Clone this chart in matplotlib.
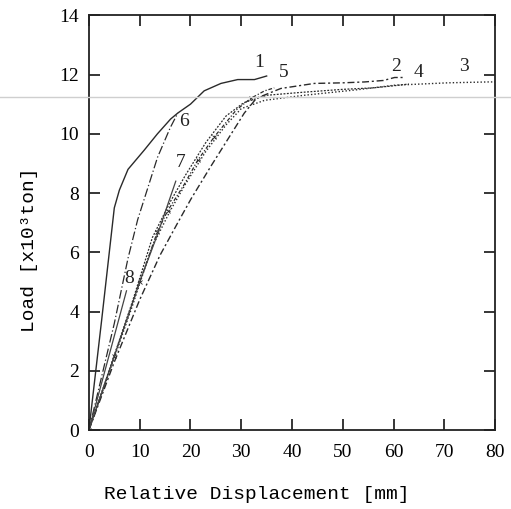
import matplotlib
matplotlib.use("Agg")
import matplotlib.pyplot as plt
from matplotlib.lines import Line2D

# =========================
# DATA
# =========================
# displacement [mm] / load [x10^3 ton]
c1_x = [0, 2.5, 5.0, 6.0, 7.7, 10.9, 13.5, 16.1, 17.5, 20.0, 22.7, 26.0, 29.3, 32.6, 35.0]
c1_y = [0, 3.7, 7.5, 8.1, 8.8, 9.45, 10.0, 10.5, 10.7, 11.0, 11.45, 11.7, 11.83, 11.83, 11.95]

c2_x = [0, 5, 10, 14, 17.5, 20.1, 24.0, 27.3, 30.6, 33.0, 37.8, 44.4, 50, 54.3, 58, 60.2, 62.2]
c2_y = [0, 2.3, 4.4, 5.9, 7.0, 7.8, 8.9, 9.8, 10.7, 11.2, 11.53, 11.7, 11.72, 11.75, 11.8, 11.9, 11.9]

c3_x = [0, 8.5, 10.5, 12.5, 16, 19, 23, 27, 30, 34.6, 42.4, 53, 60.2, 70.7, 78.6, 80]
c3_y = [0, 4.16, 5.2, 6.2, 7.4, 8.3, 9.4, 10.3, 10.85, 11.13, 11.3, 11.49, 11.64, 11.72, 11.75, 11.75]

c4_x = [0, 8.5, 10.5, 12.5, 16, 19, 23, 27, 30.5, 35, 42, 50, 56, 60, 63]
c4_y = [0, 4.3, 5.4, 6.5, 7.7, 8.6, 9.7, 10.6, 11.05, 11.3, 11.4, 11.5, 11.55, 11.62, 11.68]

c5_x = [0, 5, 10, 13.5, 15.5, 18.8, 21.4, 24.7, 29, 31.9, 34.6, 36.5]
c5_y = [0, 2.5, 5.0, 6.7, 7.4, 8.3, 9.1, 9.9, 10.8, 11.2, 11.45, 11.55]

c6_x = [0, 5, 7.7, 9.6, 13.5, 16, 17.5]
c6_y = [0, 3.6, 5.8, 7.1, 9.2, 10.2, 10.7]

c7_x = [0, 5, 10, 13.5, 17.1]
c7_y = [0, 2.5, 5.0, 6.6, 8.4]

c8_x = [0, 7.4]
c8_y = [0, 4.7]

curve_names = ["1", "2", "3", "4", "5", "6", "7", "8"]

# =========================
# PLOT
# =========================
fig = plt.figure(figsize=(5.11, 5.09), dpi=100)
ax = fig.add_axes([0.174, 0.155, 0.795, 0.815])

ink = "#2a2a2a"
ax.plot(c1_x, c1_y, color=ink, lw=1.0, ls="-")
ax.plot(c2_x, c2_y, color=ink, lw=1.0, dashes=(5, 2, 1.5, 2))
ax.plot(c3_x, c3_y, color=ink, lw=1.0, dashes=(1, 1.5))
ax.plot(c4_x, c4_y, color=ink, lw=0.9, dashes=(1.5, 1.2))
ax.plot(c5_x, c5_y, color=ink, lw=0.9, dashes=(3, 1.5, 1, 1.5),
        marker="x", markersize=2.5, markevery=0.08, markeredgewidth=0.6)
ax.plot(c6_x, c6_y, color=ink, lw=0.9, dashes=(7, 2, 1, 2))
ax.plot(c7_x, c7_y, color="#444444", lw=0.9, ls="-")
ax.plot(c8_x, c8_y, color="#444444", lw=0.9, ls="-")

label_font = dict(family="Liberation Serif", fontsize=14, color="#222222")
label_pos = [(33.6, 12.4), (60.5, 12.28), (73.9, 12.28), (65.0, 12.08),
             (38.4, 12.08), (18.8, 10.4), (18.1, 9.04), (8.0, 5.13)]
for name, (lx, ly) in zip(curve_names, label_pos):
    ax.text(lx, ly, name, ha="center", va="center", **label_font)

ax.set_xlim(0, 80)
ax.set_ylim(0, 14)
ax.set_xticks(range(0, 81, 10))
ax.set_yticks(range(0, 15, 2))
ax.tick_params(direction="in", length=8, width=1.1, top=True, right=True,
               labelsize=14, pad=7)
ax.tick_params(axis="x", pad=10)
for lab in ax.get_xticklabels() + ax.get_yticklabels():
    lab.set_family("Liberation Serif")
for sp in ax.spines.values():
    sp.set_linewidth(1.3)
    sp.set_color("#222222")

ax.set_xlabel("Relative Displacement [mm]", family="Liberation Mono", fontsize=14)
ax.set_ylabel("Load [x10³ton]", family="Liberation Mono", fontsize=14)
ax.xaxis.set_label_coords(0.412, -0.135)
ax.yaxis.set_label_coords(-0.125, 0.434)

# faint scan line across the page
fig.add_artist(Line2D([0, 1], [0.809, 0.809], transform=fig.transFigure,
                      color="#cfcfcf", lw=1.0))

fig.savefig("out.png", dpi=100)
